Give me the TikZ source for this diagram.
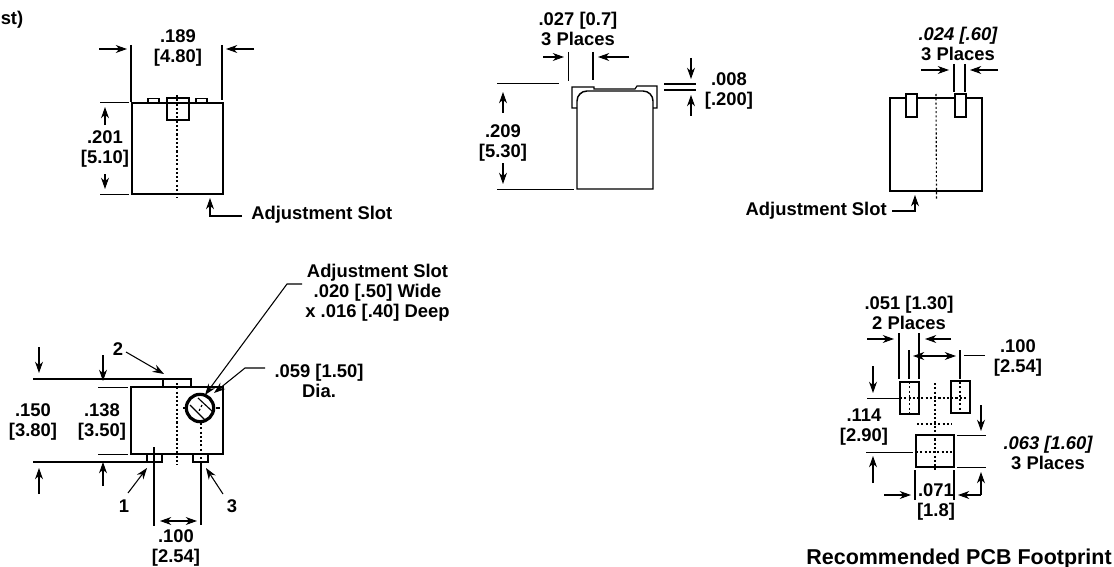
\documentclass[tikz,border=0pt]{standalone}
\usepackage{fontspec}
\setmainfont{Liberation Sans}[BoldFont={Liberation Sans Bold},BoldItalicFont={Liberation Sans Bold Italic}]
\usetikzlibrary{arrows.meta}
\tikzset{
  dimtext/.style={font=\bfseries\fontsize{13.8pt}{15pt}\selectfont,inner sep=0pt,align=center,text=black,yshift=-0.75pt},
  ln/.style={line width=0.85pt,draw=black},
  thin ln/.style={line width=0.75pt,draw=black},
  outline/.style={line width=1.1pt,draw=black},
  dot/.style={line width=0.85pt,draw=black,dash pattern=on 1.6pt off 1.6pt},
  dimarrow/.style={line width=0.8pt,draw=black,-{Stealth[length=8.5pt,width=6pt]}},
  bothdim/.style={line width=0.8pt,draw=black,{Stealth[length=8.5pt,width=6pt]}-{Stealth[length=8.5pt,width=6pt]}}
}
\begin{document}
\begin{tikzpicture}[x=0.75pt,y=-0.75pt]
\useasboundingbox (0,0) rectangle (1114,567);
% top-left view
\node[dimtext,anchor=west] (stc) at (0.5,19) {st)};
\node[dimtext] (d189) at (178,46.5) {.189\\{[4.80]}};
\draw[dimarrow] (99,49) -- (127,49); \draw[dimarrow] (254,49) -- (226,49);
\draw[ln] (131,45) -- (131,102); \draw[ln] (222,45) -- (222,100);
\draw[outline] (132,103) rectangle (223,194);
\draw[ln] (148,103) -- (148,98.5) -- (159,98.5) -- (159,103);
\draw[ln] (196,103) -- (196,98.5) -- (207,98.5) -- (207,103);
\draw[outline] (167,98) rectangle (189,120);
\draw[dot] (177,95) -- (177,198);
\draw[thin ln] (100,103) -- (129,103); \draw[thin ln] (100,194) -- (129,194);
\draw[dimarrow] (105,125) -- (105,107);
\draw[dimarrow] (105,174) -- (105,189);
\node[dimtext] (d201) at (105,147.5) {.201\\{[5.10]}};
\draw[dimarrow] (242,216) -- (210,216) -- (210,198);
\node[dimtext,anchor=west] (adj1) at (251,214) {Adjustment Slot};
% top-middle view
\node[dimtext] (d027) at (578,27.5) {.027 [0.7]\\3 Places};
\draw[ln] (568.5,52) -- (568.5,81); \draw[ln] (593,52) -- (593,80);
\draw[dimarrow] (543,57) -- (564,57); \draw[dimarrow] (629,57) -- (598,57);
\draw[thin ln] (497,84) -- (559,84); \draw[thin ln] (497,189) -- (574,189);
\draw[dimarrow] (503,113) -- (503,92); \draw[dimarrow] (503,163) -- (503,184);
\node[dimtext] (d209) at (503,142) {.209\\{[5.30]}};
\draw[outline] (577,189) -- (577,101) to[out=90,in=180] (587,91) -- (643,91) to[out=0,in=90] (653,101) -- (653,189) -- cycle;
\draw[ln] (577,108) -- (572,108) -- (572,87) -- (594,87) -- (594,89) -- (635,89) -- (637,86) -- (657,86) -- (657,108) -- (653,108);
\draw[ln] (664,84) -- (696,84); \draw[ln] (664,90) -- (696,90);
\draw[dimarrow] (691,58) -- (691,79); \draw[dimarrow] (691,116) -- (691,95);
\node[dimtext] (d008) at (729,89.5) {.008\\{[.200]}};
% top-right view
\node[dimtext] (d024) at (958,43) {\itshape .024 [.60]\\3 Places};
\draw[dimarrow] (921,70) -- (949,70); \draw[dimarrow] (998,70) -- (970,70);
\draw[ln] (954,64) -- (954,92); \draw[ln] (965,64) -- (965,92);
\draw[outline] (890,98) rectangle (982,191);
\draw[outline,fill=white] (906,94) rectangle (917,117);
\draw[outline,fill=white] (955,94) rectangle (966,117);
\draw[dot] (936,94) -- (936.5,200);
\node[dimtext,anchor=east] (adj2) at (887,210) {Adjustment Slot};
\draw[dimarrow] (892,211) -- (915,211) -- (915,195);
% bottom-left view
\draw[outline] (131,387) rectangle (223,454);
\draw[ln] (33,379) -- (191,379) -- (191,387);
\draw[ln] (163,379) -- (163,387);
\draw[thin ln] (98,387) -- (128,387); \draw[thin ln] (98,454) -- (128,454);
\draw[ln] (33,462) -- (147,462);
\draw[ln] (147,454) -- (147,462) -- (162,462) -- (162,454);
\draw[ln] (193,454) -- (193,462) -- (208,462) -- (208,454);
\draw[ln] (154,447) -- (154,526); \draw[ln] (201,462) -- (201,525);
\draw[dot] (201,423) -- (201,462);
\draw[dot] (177,383) -- (177,465);
\draw[dimarrow] (39,347) -- (39,373); \draw[dimarrow] (103,355) -- (103,381);
\draw[dimarrow] (39,494) -- (39,468); \draw[dimarrow] (103,486) -- (103,462);
\node[dimtext] (d150) at (33,421) {.150\\{[3.80]}};
\node[dimtext] (d138) at (102,421) {.138\\{[3.50]}};
\node[circle,draw,line width=2.4pt,minimum size=20.5pt,inner sep=0pt] (dial) at (200,408) {};
\draw[ln] (198,398) -- (213,412); \draw[ln] (190,405) -- (205,420);
\draw[ln] (183,408) -- (186,408); \draw[ln] (216,408) -- (220,408);
\draw[dot] (202,405) -- (199,411);
\node[dimtext] (n2) at (118,348) {2}; \node[dimtext] (n1) at (124,505) {1}; \node[dimtext] (n3) at (232,505) {3};
\draw[dimarrow] (126,352) -- (164,374);
\draw[dimarrow] (128,493) -- (147,468);
\draw[dimarrow] (223,494) -- (206,468);
\draw[bothdim] (160,521) -- (197,521);
\node[dimtext] (d100) at (176,547) {.100\\{[2.54]}};
\node[dimtext] (adj3) at (377.5,292) {Adjustment Slot\\.020 [.50] Wide\\x .016 [.40] Deep};
\draw[dimarrow] (302,284) -- (287,284) -- (205,395);
\draw[dimarrow] (265,368) -- (245,368) -- (214,393);
\node[dimtext] (d059) at (319,379.5) {.059 [1.50]\\Dia.};
% footprint
\node[dimtext] (d051) at (909,312) {.051 [1.30]\\2 Places};
\draw[ln] (899,333) -- (899,379); \draw[ln] (919,333) -- (919,379);
\draw[ln] (909,350) -- (909,379); \draw[ln] (960,350) -- (960,379);
\draw[thin ln] (964,355) -- (985,355);
\draw[dimarrow] (867,339) -- (894,339); \draw[dimarrow] (951,339) -- (925,339);
\draw[bothdim] (913,356) -- (956,356);
\node[dimtext] (d100b) at (1018,357) {.100\\{[2.54]}};
\draw[outline] (900,382) rectangle (919,414);
\draw[outline] (951,381) rectangle (970,413);
\draw[thin ln] (867,398) -- (900,398);
\draw[dot] (900,398) -- (968,398);
\draw[dot] (909.5,382) -- (909.5,414); \draw[dot] (960,382) -- (960,414);
\draw[dot] (935,383) -- (935,470); \draw[dot] (917,424) -- (952,424);
\draw[outline] (916,435) rectangle (954,467);
\draw[dot] (916,452) -- (954,452);
\draw[thin ln] (866,452) -- (913,452);
\draw[thin ln] (957,435) -- (986,435); \draw[thin ln] (957,467) -- (986,467);
\draw[dimarrow] (873,366) -- (873,393); \draw[dimarrow] (873,483) -- (873,456);
\draw[dimarrow] (981,405) -- (981,431); \draw[dimarrow] (981,495) -- (981,472);
\draw[dimarrow] (884,495) -- (911,495); \draw[dimarrow] (981,495) -- (958,495);
\draw[ln] (915,470) -- (915,500); \draw[ln] (954,470) -- (954,500);
\node[dimtext] (d114) at (864,426) {.114\\{[2.90]}};
\node[dimtext] (d063) at (1048,452) {\itshape .063 [1.60]\\3 Places};
\node[dimtext] (d071) at (936,501) {.071\\{[1.8]}};
\node[dimtext,anchor=east,font=\bfseries\fontsize{16.1pt}{17pt}\selectfont] (pcb) at (1112,558) {Recommended PCB Footprint};
\end{tikzpicture}
\end{document}
